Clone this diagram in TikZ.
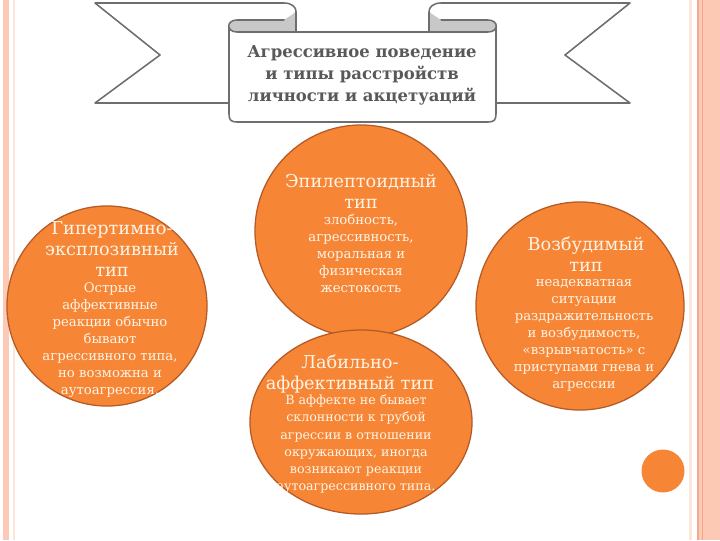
\documentclass[tikz,border=0pt]{standalone}
\usepackage{fontspec}
\setmainfont{DejaVu Serif}
\usetikzlibrary{shapes.geometric}

\definecolor{ovalfill}{HTML}{F68636}
\definecolor{ovalline}{HTML}{B55A26}
\definecolor{ovaltext}{HTML}{FFF4E6}
\definecolor{ribline}{HTML}{6E6E6E}
\definecolor{ribroll}{HTML}{C8C8C8}
\definecolor{titlegray}{HTML}{595959}
\definecolor{stripe}{HTML}{FCC9B5}
\definecolor{stripedark}{HTML}{F2A88C}
\definecolor{stripelight}{HTML}{FBE6DA}

\newcommand{\headsize}{\fontsize{12.6}{15}\selectfont}
\newcommand{\bodysize}{\fontsize{9.4}{12.1}\selectfont}

\tikzset{
  oval/.style={draw=ovalline, fill=ovalfill, line width=0.9pt, inner sep=0pt},
  ovalhead/.style={text=ovaltext, align=center, font=\headsize, inner sep=0pt},
  ovalbody/.style={text=ovaltext, align=center, font=\bodysize, inner sep=0pt},
  ribbon/.style={draw=ribline, line width=1.1pt, fill=white, line join=round},
  titletxt/.style={text=titlegray, align=center, font=\bfseries\fontsize{11.7}{15.6}\selectfont},
}

\begin{document}
\begin{tikzpicture}[x=0.025cm, y=-0.025cm]
  \useasboundingbox (0,0) rectangle (720,540);
  % side stripes
  \fill[stripe] (3,0) rectangle (9,540);
  \fill[stripelight] (13,0) rectangle (15,540);
  \fill[stripelight] (689,0) rectangle (692,540);
  \fill[stripe] (697,0) rectangle (720,540);
  \fill[stripedark] (697,0) rectangle (698.5,540);
  \fill[stripedark] (702,0) rectangle (703,540);

  % ribbon tails
  \draw[ribbon] (229,103) -- (95,103) -- (160,55) -- (95,3) -- (284,3)
    .. controls (300,3) and (300,20) .. (284,20);
  \draw[ribbon] (496,103) -- (630,103) -- (565,55) -- (630,3) -- (441,3)
    .. controls (425,3) and (425,20) .. (441,20);
  % ribbon body
  \draw[ribbon] (229,26) -- (229,114) .. controls (229,120) and (231,122) .. (237,122)
    -- (488,122) .. controls (494,122) and (496,120) .. (496,114) -- (496,26)
    -- (429,32) -- (296,32) -- cycle;
  % rolls
  \draw[ribbon, fill=ribroll] (296,12) -- (296,32) -- (237,32)
    .. controls (226,32) and (226,20) .. (237,20) -- (284,20);
  \draw[ribbon, fill=ribroll] (429,12) -- (429,32) -- (488,32)
    .. controls (499,32) and (499,20) .. (488,20) -- (441,20);
  \node[titletxt] (title) at (362,75) {Агрессивное поведение\\и типы расстройств\\личности и акцетуаций};

  % circles
  \node[oval, circle, minimum size=5.3cm] (epi) at (361,231) {};
  \node[oval, circle, minimum size=5cm] (hyp) at (107,306) {};
  \node[oval, ellipse, minimum width=5.55cm, minimum height=4.6cm] (lab) at (361,422) {};
  \node[oval, circle, minimum size=5.2cm] (exc) at (580,306) {};
  \node[fill=ovalfill, circle, minimum size=1.075cm, inner sep=0pt] (dot) at (663,471) {};

  % texts
  \node[ovalhead] (epi-head) at (361,191) {Эпилептоидный\\тип};
  \node[ovalbody] (epi-body) at (361,253) {злобность,\\агрессивность,\\моральная и\\физическая\\жестокость};
  \node[ovalhead] (hyp-head) at (112,249) {Гипертимно-\\эксплозивный\\тип};
  \node[ovalbody] (hyp-body) at (110,340) {Острые\\аффективные\\реакции обычно\\бывают\\агрессивного типа,\\но возможна и\\аутоагрессия.};
  \node[ovalhead] (lab-head) at (350,374) {Лабильно-\\аффективный тип};
  \node[ovalbody, font=\fontsize{9}{12.1}\selectfont] (lab-body) at (356,444) {В аффекте не бывает\\склонности к грубой\\агрессии в отношении\\окружающих, иногда\\возникают реакции\\аутоагрессивного типа.};
  \node[ovalhead] (exc-head) at (586,254) {Возбудимый\\тип};
  \node[ovalbody] (exc-body) at (584,335) {неадекватная\\ситуации\\раздражительность\\и возбудимость,\\«взрывчатость» с\\приступами гнева и\\агрессии};
\end{tikzpicture}
\end{document}
